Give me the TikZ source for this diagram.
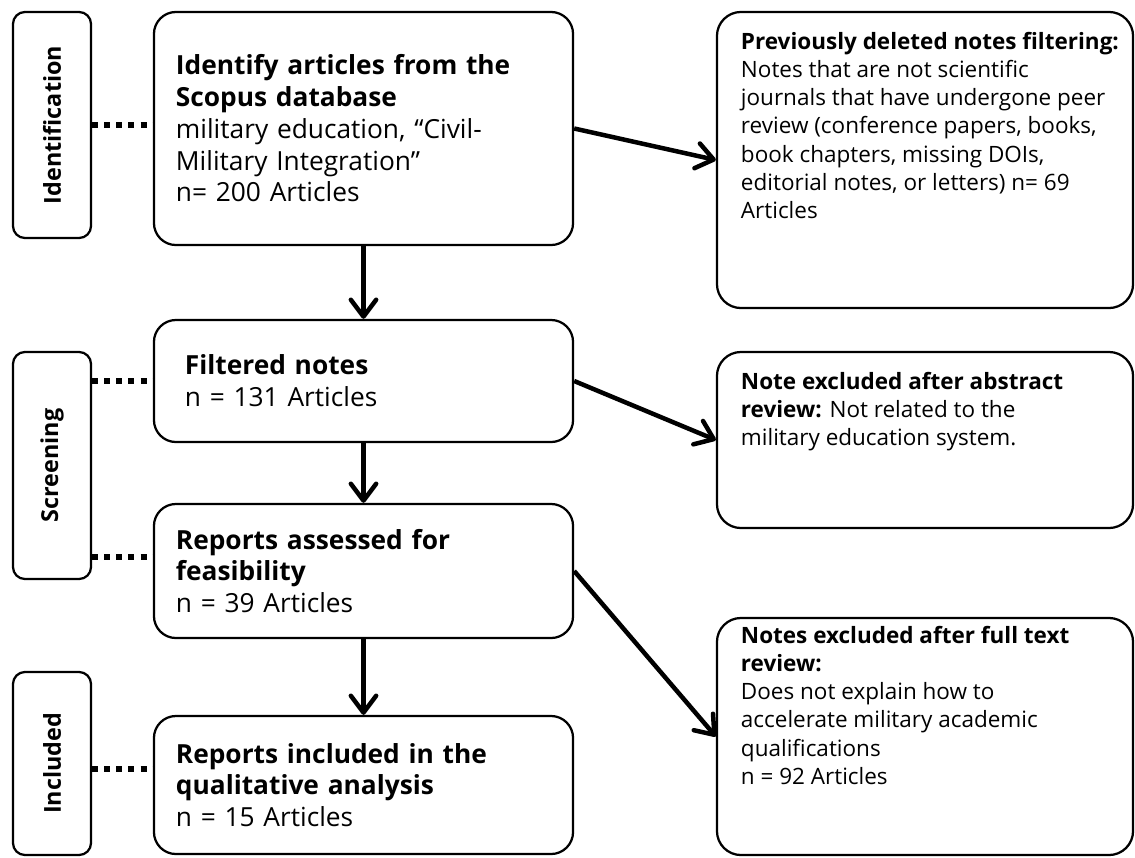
\documentclass[tikz,border=0pt]{standalone}
\usepackage{fontspec}
\setmainfont{Open Sans}
\usepackage{graphicx}
\usepackage{tikz}
\usetikzlibrary{arrows.meta}

\begin{document}
\begin{tikzpicture}[x=0.025cm, y=-0.025cm,
  phase/.style={draw, line width=1.6pt, rounded corners=0.3cm, minimum width=1.95cm, inner sep=0pt, font=\fontsize{16.6}{22}\selectfont\bfseries},
  mainbox/.style={draw, line width=1.6pt, rounded corners=0.55cm, minimum width=10.475cm, text width=9.375cm, inner xsep=0.55cm, align=left, font=\fontsize{18.7}{22.6}\selectfont},
  notebox/.style={draw, line width=1.6pt, rounded corners=0.6cm, minimum width=10.4cm, inner xsep=0.1cm, inner ysep=0.5cm, font=\fontsize{16}{20.1}\selectfont},
  flow/.style={line width=3.2pt, -{Straight Barb[length=12pt,width=18pt,round]}},
  phaselink/.style={line width=3.6pt, dash pattern=on 4.3pt off 4.3pt}]
\useasboundingbox (0,0) rectangle (1135,857);

\node[phase, minimum height=5.65cm] (ident) at (52,125) {\rotatebox{90}{Identification}};
\node[phase, minimum height=5.675cm] (screen) at (52,465.5) {\rotatebox{90}{Screening}};
\node[phase, minimum height=4.575cm] (incl) at (52,763.5) {\rotatebox{90}{Included}};

\node[mainbox, minimum height=5.825cm] (identify) at (363.5,128.5) {\textbf{Identify articles from the}\\ \textbf{Scopus database}\\ military education, “Civil-\\ Military Integration”\\ n= 200 Articles};
\node[mainbox, minimum height=3.05cm, text width=8.925cm, inner xsep=0.775cm] (filtered) at (363.5,381) {\textbf{Filtered notes}\\ n = 131 Articles};
\node[mainbox, minimum height=3.35cm] (assessed) at (363.5,571) {\textbf{Reports assessed for}\\ \textbf{feasibility}\\ n = 39 Articles};
\node[mainbox, minimum height=3.45cm] (included) at (363.5,785) {\textbf{Reports included in the}\\ \textbf{qualitative analysis}\\ n = 15 Articles};

\node[notebox, minimum height=7.4cm] (prev) at (925,160) {\hspace*{0.5cm}\parbox[c][6.4cm][t]{9.7cm}{\raggedright \textbf{Previously deleted notes filtering:}\\ Notes that are not scientific\\ journals that have undergone peer\\ review (conference papers, books,\\ book chapters, missing DOIs,\\ editorial notes, or letters) n= 69\\ Articles}};
\node[notebox, minimum height=4.4cm] (abstract) at (925,440) {\hspace*{0.5cm}\parbox[c][3.4cm][t]{9.7cm}{\raggedright \textbf{Note excluded after abstract}\\ \textbf{review:} Not related to the\\ military education system.}};
\node[notebox, minimum height=5.925cm, inner ysep=0.2cm] (fulltext) at (925,736.5) {\hspace*{0.5cm}\parbox[c][5.525cm][t]{9.7cm}{\raggedright \textbf{Notes excluded after full text}\\ \textbf{review:}\\ Does not explain how to\\ accelerate military academic\\ qualifications\\ n = 92 Articles}};

\coordinate (feas) at (154,557);
\coordinate (qual) at (154,769);

\draw[flow] (identify) -- (filtered);
\draw[flow] (filtered) -- (assessed);
\draw[flow] (assessed) -- (included);
\draw[flow] (identify.east) -- (prev.west);
\draw[flow] (filtered.east) -- (abstract.west);
\draw[flow] (assessed.east) -- (fulltext.west);

\draw[phaselink] (ident.east) -- (ident.east -| identify.west);
\draw[phaselink] (filtered.west -| screen.east) -- (filtered.west);
\draw[phaselink] (screen.east |- feas) -- (feas);
\draw[phaselink] (incl.east |- qual) -- (qual);
\end{tikzpicture}
\end{document}
